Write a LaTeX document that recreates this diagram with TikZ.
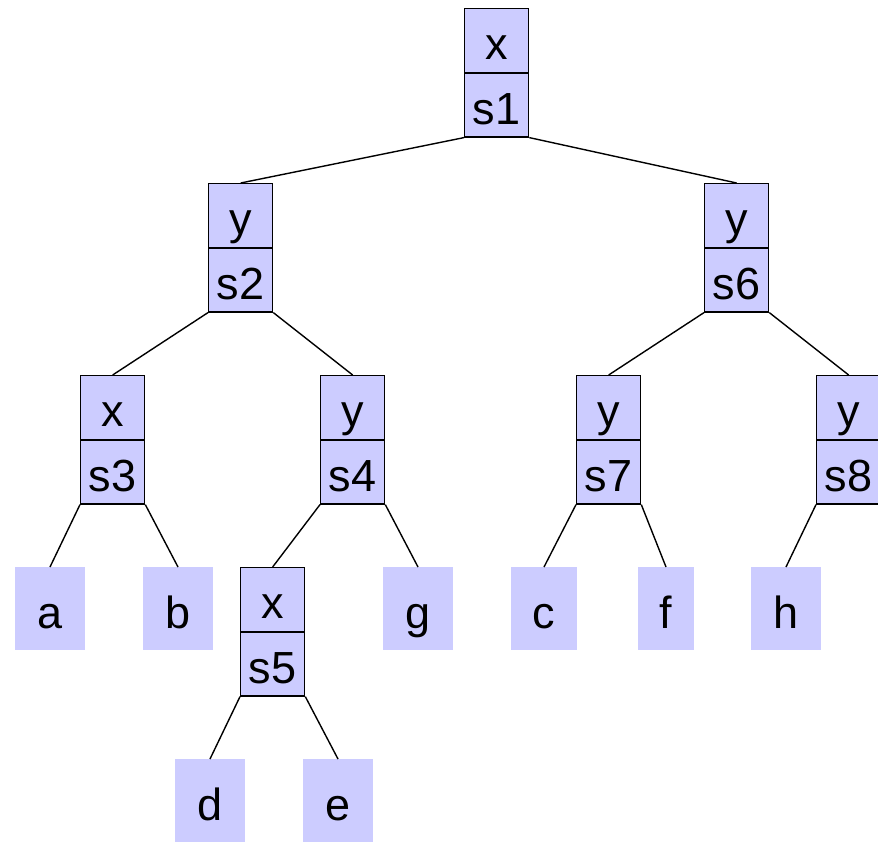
\documentclass[tikz,border=0pt]{standalone}
\usepackage{fontspec}
\setmainfont{Liberation Sans}
\definecolor{lav}{RGB}{204,204,255}
\newcommand{\bignode}[5]{%
  \node[cell] (#1-t) at (#2,#3) {#4};
  \node[cell] (#1-b) at (#1-t.south west) {#5};
}
\begin{document}
\begin{tikzpicture}[x=1pt,y=-1pt,
  txt/.style={text height=40pt, text depth=1pt, font=\fontsize{45}{54}\selectfont},
  cell/.style={txt, draw=black, line width=1.3pt, fill=lav, minimum width=64pt,
    minimum height=63.5pt, inner sep=0pt, anchor=north west},
  leaf/.style={txt, fill=lav, minimum height=83pt, inner xsep=22pt, inner ysep=0pt, anchor=north},
  link/.style={line width=1.4pt}]
\useasboundingbox (0,0) rectangle (878,841);

% internal nodes: split key / label boxes
\bignode{s1}{464}{8}{x}{s1}
\bignode{s2}{208}{183}{y}{s2}
\bignode{s6}{704}{183}{y}{s6}
\bignode{s3}{80}{375}{x}{s3}
\bignode{s4}{320}{375}{y}{s4}
\bignode{s7}{576}{375}{y}{s7}
\bignode{s8}{816}{375}{y}{s8}
\bignode{s5}{240}{567}{x}{s5}

% leaves
\node[leaf] (a) at (50,567) {a};
\node[leaf] (b) at (178,567) {b};
\node[leaf] (g) at (418,567) {g};
\node[leaf] (c) at (544,567) {c};
\node[leaf] (f) at (666,567) {f};
\node[leaf] (h) at (786,567) {h};
\node[leaf] (d) at (210,759) {d};
\node[leaf] (e) at (338,759) {e};

% links from lower corners to child tops
\draw[link] (s1-b.south west) -- (s2-t.north);
\draw[link] (s1-b.south east) -- (s6-t.north);
\draw[link] (s2-b.south west) -- (s3-t.north);
\draw[link] (s2-b.south east) -- (s4-t.north);
\draw[link] (s6-b.south west) -- (s7-t.north);
\draw[link] (s6-b.south east) -- (s8-t.north);
\draw[link] (s3-b.south west) -- (a.north);
\draw[link] (s3-b.south east) -- (b.north);
\draw[link] (s4-b.south west) -- (s5-t.north);
\draw[link] (s4-b.south east) -- (g.north);
\draw[link] (s7-b.south west) -- (c.north);
\draw[link] (s7-b.south east) -- (f.north);
\draw[link] (s8-b.south west) -- (h.north);
\draw[link] (s5-b.south west) -- (d.north);
\draw[link] (s5-b.south east) -- (e.north);
\end{tikzpicture}
\end{document}
